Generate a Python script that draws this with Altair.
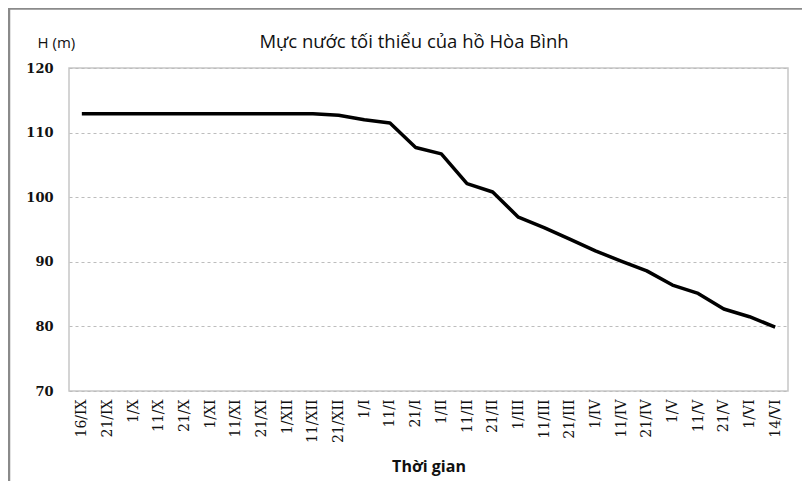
import altair as alt
import pandas as pd

dates = ["16/IX", "21/IX", "1/X", "11/X", "21/X", "1/XI", "11/XI", "21/XI", "1/XII",
         "11/XII", "21/XII", "1/I", "11/I", "21/I", "1/II", "11/II", "21/II", "1/III",
         "11/III", "21/III", "1/IV", "11/IV", "21/IV", "1/V", "11/V", "21/V", "1/VI", "14/VI"]
levels = [112.9, 112.9, 112.9, 112.9, 112.9, 112.9, 112.9, 112.9, 112.9,
          112.9, 112.7, 112.0, 111.5, 107.7, 106.7, 102.1, 100.8, 96.9,
          95.3, 93.5, 91.7, 90.1, 88.6, 86.4, 85.1, 82.7, 81.5, 79.9]
y_ticks = [70, 80, 90, 100, 110, 120]
chart_title = "Mực nước tối thiểu của hồ Hòa Bình"

df = pd.DataFrame({"date": dates, "H": levels})

line = alt.Chart(df).mark_line(color="black", strokeWidth=3.5, strokeJoin="round").encode(
    x=alt.X("date:N", sort=dates, scale=alt.Scale(paddingInner=0, paddingOuter=0.5),
            axis=alt.Axis(title="Thời gian", labelAngle=-90, labelFont="DejaVu Serif",
                          labelFontSize=14, labelColor="#111", labelPadding=8,
                          ticks=False, domain=False, grid=False,
                          titleFont="Open Sans", titleFontSize=16, titleFontWeight="bold",
                          titleColor="#111", titleY=80, titleBaseline="alphabetic")),
    y=alt.Y("H:Q", scale=alt.Scale(domain=[70, 120], nice=False, zero=False),
            axis=alt.Axis(title="H (m)", values=y_ticks, labelFont="DejaVu Serif",
                          labelFontSize=13, labelFontWeight="bold", labelColor="#111",
                          labelPadding=16, ticks=False, domain=False,
                          grid=True, gridDash=[3, 3], gridColor="#bdbdbd", gridWidth=1,
                          titleAngle=0, titleAlign="left", titleBaseline="middle",
                          titleX=-32, titleY=-26, titleFont="Open Sans", titleFontSize=15,
                          titleFontWeight="normal", titleColor="#111")),
)

title_text = alt.Chart(alt.Data(values=[{"t": chart_title}])).mark_text(
    font="Open Sans", fontSize=18.5, color="#111", align="center", baseline="middle"
).encode(text="t:N", x=alt.value(345), y=alt.value(-26))

frame = alt.Chart(alt.Data(values=[{}])).mark_rule(color="#8a8a8a", strokeWidth=2.5)
left_border = frame.encode(x=alt.value(-60), y=alt.value(-60), y2=alt.value(420))
top_border = frame.encode(x=alt.value(-60), x2=alt.value(740), y=alt.value(-59.5))

chart = alt.layer(line, title_text, left_border, top_border).properties(
    width=719, height=323,
    padding={"left": 61, "top": 60, "right": 14, "bottom": 90},
    autosize=alt.AutoSizeParams(type="none"),
    background="white",
).configure_view(stroke="#c6c6c6", strokeWidth=1.5)

chart.save("out.html", embed_options={"renderer": "svg", "actions": False})
